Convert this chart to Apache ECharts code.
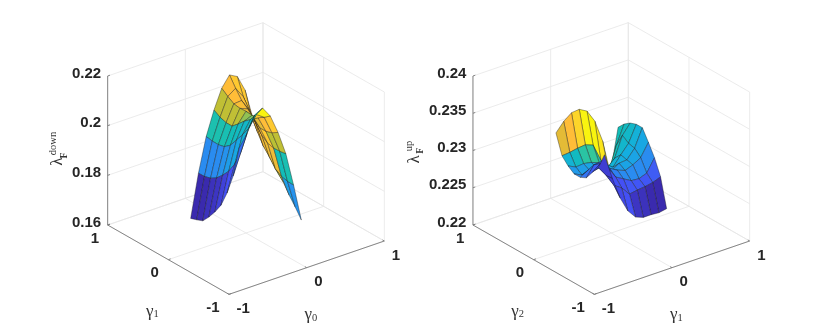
<!DOCTYPE html>
<html>
<head>
<meta charset="utf-8">
<style>
html, body { margin: 0; padding: 0; background: #fff; }
#main { width: 830px; height: 330px; }
</style>
<script src="https://cdn.jsdelivr.net/npm/echarts@6/dist/echarts.min.js"></script>
</head>
<body>
<div id="main"></div>
<script>
// grid of the two surfaces
var gammaGrid = [-0.4, -0.3, -0.2, -0.1, 0, 0.1, 0.2, 0.3, 0.4];
var gammaTicks = [-1, 0, 1];
var downTicks = [0.16, 0.18, 0.2, 0.22];
var upTicks = [0.22, 0.225, 0.23, 0.235, 0.24];
var upTickLabels = ['0.22', '0.225', '0.23', '0.235', '0.24'];
var downTickLabels = ['0.16', '0.18', '0.2', '0.22'];

// surface heights, one row per gamma on the right floor axis
var downValues = [
    [0.2041, 0.1914, 0.1832, 0.1769, 0.1728, 0.1693, 0.1664, 0.1654, 0.1646],
    [0.2088, 0.2000, 0.1938, 0.1895, 0.1865, 0.1840, 0.1825, 0.1818, 0.1817],
    [0.2153, 0.2085, 0.2045, 0.2010, 0.1975, 0.1955, 0.1949, 0.1950, 0.1954],
    [0.2170, 0.2130, 0.2095, 0.2075, 0.2050, 0.2027, 0.2027, 0.2035, 0.2050],
    [0.2127, 0.2108, 0.2092, 0.2088, 0.2090, 0.2088, 0.2092, 0.2108, 0.2127],
    [0.2050, 0.2035, 0.2027, 0.2027, 0.2050, 0.2075, 0.2095, 0.2130, 0.2170],
    [0.1954, 0.1950, 0.1949, 0.1955, 0.1975, 0.2010, 0.2045, 0.2085, 0.2153],
    [0.1817, 0.1818, 0.1825, 0.1840, 0.1875, 0.1905, 0.1950, 0.2000, 0.2088],
    [0.1665, 0.1703, 0.1737, 0.1777, 0.1810, 0.1857, 0.1890, 0.1930, 0.1965]
];
var upValues = [
    [0.2338, 0.2316, 0.2305, 0.2293, 0.2289, 0.2289, 0.2295, 0.2304, 0.2330],
    [0.2303, 0.2302, 0.2313, 0.2307, 0.2295, 0.2284, 0.2290, 0.2305, 0.2342],
    [0.2273, 0.2285, 0.2304, 0.2308, 0.2292, 0.2286, 0.2291, 0.2307, 0.2350],
    [0.2252, 0.2278, 0.2288, 0.2295, 0.2299, 0.2285, 0.2289, 0.2308, 0.2351],
    [0.2240, 0.2266, 0.2282, 0.2289, 0.2283, 0.2288, 0.2285, 0.2304, 0.2345],
    [0.2236, 0.2268, 0.2276, 0.2285, 0.2290, 0.2280, 0.2274, 0.2280, 0.2328],
    [0.2236, 0.2269, 0.2275, 0.2289, 0.2291, 0.2293, 0.2284, 0.2261, 0.2298],
    [0.2235, 0.2271, 0.2279, 0.2295, 0.2303, 0.2305, 0.2311, 0.2293, 0.2251],
    [0.2237, 0.2275, 0.2296, 0.2312, 0.2327, 0.2327, 0.2324, 0.2318, 0.2309]
];

// colour level of each facet
var downShade = [
    [0.15, 0.12, 0.10, 0.06, 0.03, 0.02, 0.00, 0.00],
    [0.34, 0.32, 0.28, 0.25, 0.22, 0.20, 0.20, 0.20],
    [0.50, 0.36, 0.36, 0.38, 0.40, 0.42, 0.43, 0.43],
    [1.00, 0.85, 0.55, 0.57, 0.60, 0.62, 0.62, 0.62],
    [0.85, 0.80, 0.72, 0.72, 0.75, 0.78, 0.80, 0.80],
    [0.62, 0.60, 0.85, 0.80, 0.80, 0.80, 0.82, 0.85],
    [0.42, 0.40, 0.75, 0.75, 0.78, 0.80, 0.82, 0.85],
    [0.22, 0.25, 0.60, 0.55, 0.62, 0.70, 0.75, 0.80]
];
var upShade = [
    [0.05, 0.08, 0.12, 0.16, 0.20, 0.24, 0.33, 0.72],
    [0.05, 0.08, 0.12, 0.16, 0.20, 0.25, 0.38, 0.80],
    [0.08, 0.10, 0.15, 0.18, 0.20, 0.27, 0.47, 0.90],
    [0.10, 0.10, 0.18, 0.20, 0.22, 0.28, 0.50, 1.00],
    [0.03, 0.11, 0.20, 0.24, 0.27, 0.30, 0.45, 1.00],
    [0.02, 0.11, 0.20, 0.27, 0.30, 0.33, 0.40, 0.95],
    [0.00, 0.11, 0.20, 0.27, 0.30, 0.35, 0.40, 1.00],
    [0.00, 0.12, 0.20, 0.28, 0.32, 0.36, 0.38, 0.40]
];

var parula = ['#3a2aae', '#4450f5', '#2a8cf0', '#14aee0', '#12bdb8', '#35c79a',
    '#b9c035', '#ddbb35', '#ffbd38', '#fcd52a', '#f9f410'];

// axonometric set-up of each panel, in picture pixels
var panels = [
    {
        left: 246, top: 233, zMin: 0.16, zScale: 149 / 0.06,
        values: downValues, shade: downShade,
        zTicks: downTicks, zLabels: downTickLabels,
        xName: '0', yName: '1', supText: 'down',
        lambda: [58, 161.7], sub: [64, 155.5], sup: [53.5, 143.5]
    },
    {
        left: 611.3, top: 233, zMin: 0.22, zScale: 149 / 0.02,
        values: upValues, shade: upShade,
        zTicks: upTicks, zLabels: upTickLabels,
        xName: '1', yName: '2', supText: 'up',
        lambda: [414.3, 159.3], sub: [420, 150.7], sup: [409, 146]
    }
];

function project(p, a, b, z) {
    return [
        p.left + 77.67 * a - 60.67 * b,
        p.top - 26.67 * a - 34.67 * b - p.zScale * (z - p.zMin)
    ];
}

// box, grid lines and tick labels are built from the tick arrays
function frameSegments(p) {
    var out = [];
    var zLow = p.zTicks[0], zHigh = p.zTicks[p.zTicks.length - 1];
    function add(from, to, kind) {
        var s = project(p, from[0], from[1], from[2]);
        var e = project(p, to[0], to[1], to[2]);
        out.push([s[0], s[1], e[0], e[1], kind]);
    }
    p.zTicks.forEach(function (z) {
        add([-1, 1, z], [1, 1, z], 0);
        add([1, 1, z], [1, -1, z], 0);
        add([-1, 1, z], [-0.97, 1, z], 1);
    });
    gammaTicks.forEach(function (g) {
        add([g, 1, zLow], [g, 1, zHigh], 0);
        add([1, g, zLow], [1, g, zHigh], 0);
        add([g, -1, zLow], [g, 1, zLow], 0);
        add([-1, g, zLow], [1, g, zLow], 0);
        add([g, -1, zLow], [g, -0.97, zLow], 1);
        add([-1, g, zLow], [-0.97, g, zLow], 1);
    });
    add([-1, 1, zLow], [-1, 1, zHigh], 1);
    add([-1, 1, zLow], [-1, -1, zLow], 1);
    add([-1, -1, zLow], [1, -1, zLow], 1);
    return out;
}

function frameLabels(p) {
    var out = [];
    var zLow = p.zTicks[0];
    p.zTicks.forEach(function (z, i) {
        var pt = project(p, -1, 1, z);
        out.push([pt[0] - 6.5, pt[1] - 2.5, p.zLabels[i], 'right']);
    });
    gammaTicks.forEach(function (g) {
        var pt = project(p, -1, g, zLow);
        out.push([pt[0] - (g === 1 ? 8.5 : 9.5), pt[1] + 13.5, String(g), 'right']);
        pt = project(p, g, -1, zLow);
        out.push([pt[0] + 7.5, pt[1] + 14.5, String(g), 'left']);
    });
    return out;
}

function cellOrder() {
    // far corner first so nearer facets paint over it
    var out = [];
    for (var i = gammaGrid.length - 2; i >= 0; i--) {
        for (var j = gammaGrid.length - 2; j >= 0; j--) {
            out.push([i, j]);
        }
    }
    return out;
}

function surfaceSeries(p) {
    return {
        type: 'custom',
        coordinateSystem: 'cartesian2d',
        silent: true,
        z: 3,
        data: cellOrder(),
        renderItem: function (params, api) {
            var i = api.value(0), j = api.value(1);
            var corners = [[i, j], [i + 1, j], [i + 1, j + 1], [i, j + 1]];
            var points = corners.map(function (c) {
                return api.coord(project(p, gammaGrid[c[0]], gammaGrid[c[1]], p.values[c[0]][c[1]]));
            });
            return {
                type: 'polygon',
                shape: { points: points },
                style: {
                    fill: echarts.color.lerp(p.shade[i][j], parula),
                    stroke: 'rgba(20,20,20,0.7)',
                    lineWidth: 0.55,
                    lineJoin: 'round'
                }
            };
        }
    };
}

function frameSeries(p) {
    return {
        type: 'custom',
        coordinateSystem: 'cartesian2d',
        silent: true,
        z: 1,
        data: frameSegments(p),
        renderItem: function (params, api) {
            var s = api.coord([api.value(0), api.value(1)]);
            var e = api.coord([api.value(2), api.value(3)]);
            var axis = api.value(4) === 1;
            return {
                type: 'line',
                z2: axis ? 2 : 1,
                shape: { x1: s[0], y1: s[1], x2: e[0], y2: e[1] },
                style: { stroke: axis ? '#7a7a7a' : '#e6e6e6', lineWidth: axis ? 0.9 : 0.8 }
            };
        }
    };
}

function labelSeries(p) {
    var labels = frameLabels(p);
    return {
        type: 'custom',
        coordinateSystem: 'cartesian2d',
        silent: true,
        z: 4,
        data: labels.map(function (q) { return [q[0], q[1]]; }),
        renderItem: function (params, api) {
            var pt = api.coord([api.value(0), api.value(1)]);
            return {
                type: 'text',
                style: {
                    x: pt[0], y: pt[1],
                    text: labels[params.dataIndex][2],
                    align: labels[params.dataIndex][3],
                    verticalAlign: 'middle',
                    fill: '#262626',
                    font: 'bold 15px "Liberation Sans", Arial, sans-serif'
                }
            };
        }
    };
}

// gamma names under the floor axes and the rotated lambda name
function nameSeries(p) {
    var floor = project(p, -1, 1, p.zMin);
    var names = [
        [floor[0] + 44.6, 311.7, 'γ', p.yName],
        [floor[0] + 203.3, 315, 'γ', p.xName]
    ];
    return {
        type: 'custom',
        coordinateSystem: 'cartesian2d',
        silent: true,
        z: 4,
        data: names.map(function (q) { return [q[0], q[1]]; }),
        renderItem: function (params, api) {
            var n = names[params.dataIndex];
            var pt = api.coord([api.value(0), api.value(1)]);
            return {
                type: 'text',
                style: {
                    x: pt[0], y: pt[1],
                    text: '{g|' + n[2] + '}{s|' + n[3] + '}',
                    align: 'center',
                    verticalAlign: 'middle',
                    rich: {
                        g: { font: '17px "Liberation Serif", serif', fill: '#333' },
                        s: { font: '10.5px "Liberation Serif", serif', fill: '#333', verticalAlign: 'bottom', padding: [6, 0, 0, 0] }
                    }
                }
            };
        }
    };
}

function lambdaSeries(p) {
    var parts = [
        [p.lambda, 'λ', '17px "Liberation Serif", serif'],
        [p.sub, 'F', 'bold 10px "Liberation Serif", serif'],
        [p.sup, p.supText, '10.5px "Liberation Serif", serif']
    ];
    return {
        type: 'custom',
        coordinateSystem: 'cartesian2d',
        silent: true,
        z: 4,
        data: parts.map(function (q) { return q[0]; }),
        renderItem: function (params, api) {
            var q = parts[params.dataIndex];
            var pt = api.coord([api.value(0), api.value(1)]);
            return {
                type: 'text',
                x: pt[0], y: pt[1],
                rotation: Math.PI / 2,
                style: {
                    x: 0, y: 0,
                    text: q[1],
                    align: 'center',
                    verticalAlign: 'middle',
                    fill: '#333',
                    font: q[2]
                }
            };
        }
    };
}

var series = [];
panels.forEach(function (p) {
    series.push(frameSeries(p), surfaceSeries(p), labelSeries(p), nameSeries(p), lambdaSeries(p));
});

var myChart = echarts.init(document.getElementById('main'), null, { renderer: 'canvas' });
var option = {
    animation: false,
    backgroundColor: '#fff',
    grid: { left: 0, right: 0, top: 0, bottom: 0 },
    xAxis: { type: 'value', min: 0, max: 830, show: false },
    yAxis: { type: 'value', min: 0, max: 330, inverse: true, show: false },
    series: series
};
myChart.setOption(option);
</script>
</body>
</html>
